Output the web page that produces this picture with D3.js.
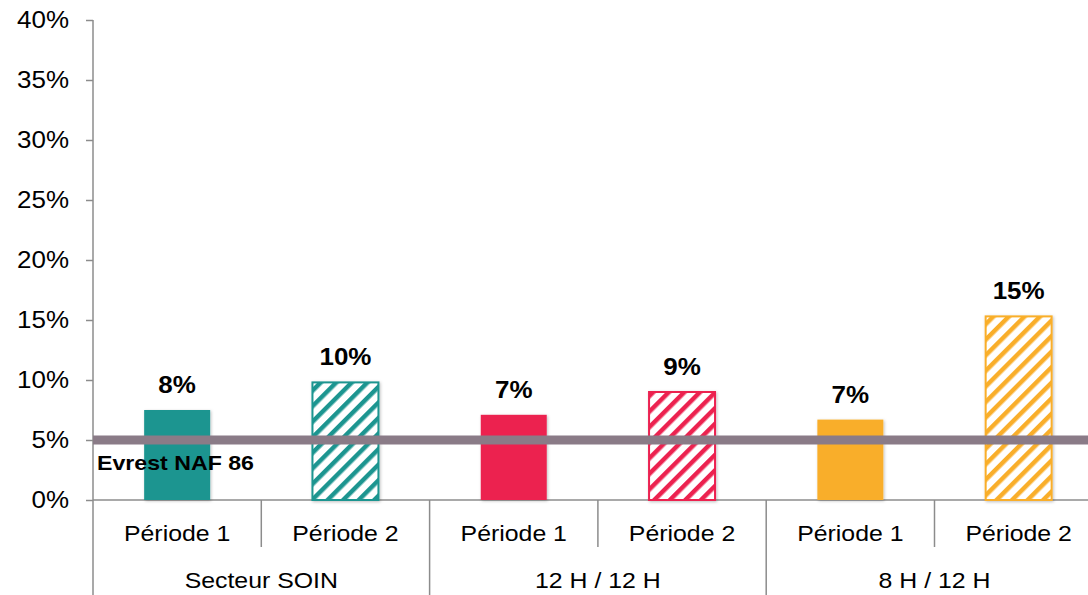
<!DOCTYPE html>
<meta charset="utf-8">
<style>
body { margin: 0; background: #fff; }
svg.chart text { font-family: "Liberation Sans", Arial, sans-serif; fill: #000; }
svg.chart .axis-line { stroke: #8c8c8c; stroke-width: 1.5; }
svg.chart .bar-label { font-weight: bold; font-size: 23px; text-anchor: middle; }
svg.chart .ref-label { font-weight: bold; font-size: 20.5px; }
svg.chart .cat-label { font-size: 22px; text-anchor: middle; }
</style>

<svg class="chart" width="1088" height="595"></svg>

<script src="https://d3js.org/d3.v7.min.js"></script>
<script>

// data
var groups = ["Secteur SOIN", "12 H / 12 H", "8 H / 12 H"];
var periods = ["Période 1", "Période 2"];
var values = [7.5, 9.8, 7.1, 9.0, 6.7, 15.3];
var valueLabels = ["8%", "10%", "7%", "9%", "7%", "15%"];
var groupColors = ["#1b9590", "#ec2050", "#f9ae29"];
var yTicks = [0, 5, 10, 15, 20, 25, 30, 35, 40];
var referenceValue = 5;
var referenceLabel = "Evrest NAF 86";

var SX = 1.13; // text is horizontally stretched in the original

var svg = d3.select("svg.chart");
var plotLeft = 93, plotRight = 1102.8, plotTop = 20, plotBottom = 500;

var y = d3.scaleLinear().domain([0, 40]).range([plotBottom, plotTop]);

var bars = [];
groups.forEach(function(g, gi) {
  periods.forEach(function(p, pi) {
    var i = gi * 2 + pi;
    bars.push({id: i, group: g, period: p, gi: gi, hatched: pi === 1,
               value: values[i], label: valueLabels[i]});
  });
});

var x = d3.scaleBand()
  .domain(bars.map(function(d) { return d.id; }))
  .range([plotLeft, plotRight])
  .paddingInner(0.608)
  .paddingOuter(0.304);
var slot = d3.scaleBand().domain(bars.map(function(d) { return d.id; })).range([plotLeft, plotRight]);
var xGroup = d3.scaleBand().domain(groups).range([plotLeft, plotRight]);

// patterns + shadow
var defs = svg.append("defs");
groupColors.forEach(function(c, i) {
  var pat = defs.append("pattern")
    .attr("id", "hatch" + i)
    .attr("patternUnits", "userSpaceOnUse")
    .attr("width", 11).attr("height", 11)
    .attr("patternTransform", "rotate(45)");
  pat.append("rect").attr("width", 11).attr("height", 11).attr("fill", "#fff");
  pat.append("rect").attr("width", 4.5).attr("height", 11).attr("fill", c);
});
var filt = defs.append("filter").attr("id", "shadow")
  .attr("x", "-20%").attr("y", "-20%").attr("width", "140%").attr("height", "140%");
filt.append("feDropShadow").attr("dx", 1).attr("dy", 1).attr("stdDeviation", 1.5)
  .attr("flood-color", "#000").attr("flood-opacity", 0.25);

function stretch(sel, tx, ty) {
  sel.attr("transform", "translate(" + tx + "," + ty + ") scale(" + SX + ",1)");
}

// y axis
var yAxis = d3.axisLeft(y)
  .tickValues(yTicks)
  .tickFormat(function(d) { return d + "%"; })
  .tickSize(7)
  .tickSizeOuter(0)
  .tickPadding(14.2);

var yg = svg.append("g")
  .attr("transform", "translate(" + plotLeft + ",0)")
  .call(yAxis);
yg.select(".domain").remove();
yg.selectAll(".tick line").attr("stroke", "#8c8c8c").attr("stroke-width", 1.5);
yg.selectAll(".tick text")
  .style("font-size", "23px")
  .attr("transform", "scale(" + SX + ",1)");

svg.append("line").attr("class", "axis-line")
  .attr("x1", plotLeft).attr("x2", plotLeft).attr("y1", plotTop).attr("y2", 595);

// x axis baseline and separators
svg.append("line").attr("class", "axis-line")
  .attr("x1", plotLeft).attr("x2", plotRight).attr("y1", plotBottom).attr("y2", plotBottom);

svg.selectAll(".sep-short")
  .data(groups)
  .enter().append("line")
  .attr("class", "axis-line")
  .attr("x1", function(d) { return xGroup(d) + xGroup.bandwidth() / 2; })
  .attr("x2", function(d) { return xGroup(d) + xGroup.bandwidth() / 2; })
  .attr("y1", plotBottom).attr("y2", 547);

svg.selectAll(".sep-long")
  .data(groups)
  .enter().append("line")
  .attr("class", "axis-line")
  .attr("x1", function(d) { return xGroup(d) + xGroup.bandwidth(); })
  .attr("x2", function(d) { return xGroup(d) + xGroup.bandwidth(); })
  .attr("y1", plotBottom).attr("y2", 595);

// bars
svg.selectAll(".bar")
  .data(bars)
  .enter().append("rect")
  .attr("class", "bar")
  .attr("x", function(d) { return x(d.id); })
  .attr("width", x.bandwidth())
  .attr("y", function(d) { return y(d.value); })
  .attr("height", function(d) { return plotBottom - y(d.value); })
  .attr("fill", function(d) { return d.hatched ? "url(#hatch" + d.gi + ")" : groupColors[d.gi]; })
  .attr("stroke", function(d) { return d.hatched ? groupColors[d.gi] : "none"; })
  .attr("stroke-width", 2)
  .attr("filter", "url(#shadow)");

// reference line
svg.append("line")
  .attr("x1", plotLeft).attr("x2", plotRight)
  .attr("y1", y(referenceValue)).attr("y2", y(referenceValue))
  .attr("stroke", "#8a7b87").attr("stroke-width", 9);

svg.append("text")
  .attr("class", "ref-label")
  .text(referenceLabel)
  .call(stretch, plotLeft + 4, y(referenceValue) + 29.5);

// value labels
svg.selectAll(".bar-label")
  .data(bars)
  .enter().append("text")
  .attr("class", "bar-label")
  .text(function(d) { return d.label; })
  .each(function(d) {
    d3.select(this).call(stretch, x(d.id) + x.bandwidth() / 2, y(d.value) - 17);
  });

// category labels
svg.selectAll(".period-label")
  .data(bars)
  .enter().append("text")
  .attr("class", "cat-label")
  .text(function(d) { return d.period; })
  .each(function(d) {
    d3.select(this).call(stretch, slot(d.id) + slot.bandwidth() / 2, 541);
  });

svg.selectAll(".group-label")
  .data(groups)
  .enter().append("text")
  .attr("class", "cat-label")
  .text(function(d) { return d; })
  .each(function(d) {
    d3.select(this).call(stretch, xGroup(d) + xGroup.bandwidth() / 2, 588);
  });

</script>
